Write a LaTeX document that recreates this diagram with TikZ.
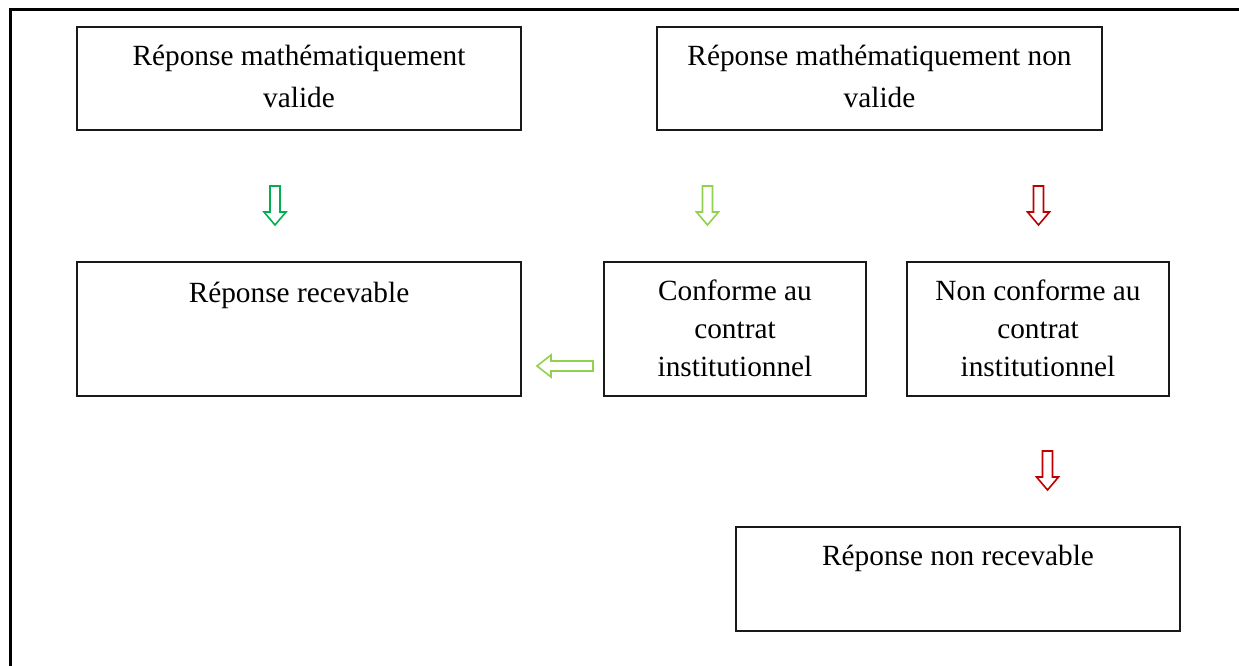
\documentclass[tikz,border=0pt]{standalone}
\usepackage{fontspec}
\setmainfont{Liberation Serif}
\definecolor{dgreen}{RGB}{0,176,80}
\definecolor{lgreen}{RGB}{146,208,80}
\definecolor{dred}{RGB}{192,0,0}
\tikzset{
  box/.style={draw=black!90, line width=2pt, rectangle, inner sep=0pt},
  lbl/.style={align=center, font=\fontsize{29.3}{42}\selectfont, inner sep=0pt, anchor=base},
  lbltight/.style={lbl, font=\fontsize{29.3}{38}\selectfont},
  barrow/.style={line width=1.6pt, fill=white, line join=miter}
}
\newcommand{\downarrowblock}[3]{% x, ytop, color
  \draw[barrow, draw=#3] (#1-5,#2) -- (#1+5,#2) -- (#1+5,#2+26) -- (#1+11,#2+26) -- (#1,#2+39) -- (#1-11,#2+26) -- (#1-5,#2+26) -- cycle;}
\begin{document}
\begin{tikzpicture}[x=1pt,y=-1pt]
\useasboundingbox (0,0) rectangle (1239,666);
\fill[white] (0,0) rectangle (1239,666);
% outer frame
\draw[line width=3pt] (10,680) -- (10,10) -- (1250,10);
% boxes
\node[box, minimum width=444pt, minimum height=103pt] (b1) at (299,78.5) {};
\node[box, minimum width=445pt, minimum height=103pt] (b2) at (879.5,78.5) {};
\node[box, minimum width=444pt, minimum height=134pt] (b3) at (299,329) {};
\node[box, minimum width=262pt, minimum height=134pt] (b4) at (735,329) {};
\node[box, minimum width=262pt, minimum height=134pt] (b5) at (1038,329) {};
\node[box, minimum width=444pt, minimum height=104pt] (b6) at (958,579) {};
% labels (anchor base = baseline of the last line)
\node[lbl] (t1) at (299,108) {Réponse mathématiquement\\valide};
\node[lbl] (t2) at (879.5,108) {Réponse mathématiquement non\\valide};
\node[lbl] (t3) at (299,302) {Réponse recevable};
\node[lbltight] (t4) at (735,376) {Conforme au\\contrat\\institutionnel};
\node[lbltight] (t5) at (1038,376) {Non conforme au\\contrat\\institutionnel};
\node[lbl] (t6) at (958,565) {Réponse non recevable};
% block arrows
\downarrowblock{275}{186}{dgreen}
\downarrowblock{707.5}{186}{lgreen}
\downarrowblock{1038.5}{186}{dred}
\downarrowblock{1047.5}{451}{dred}
\draw[barrow, draw=lgreen] (593,361) -- (593,371) -- (551,371) -- (551,377) -- (537,366) -- (551,355) -- (551,361) -- cycle;
\end{tikzpicture}
\end{document}
